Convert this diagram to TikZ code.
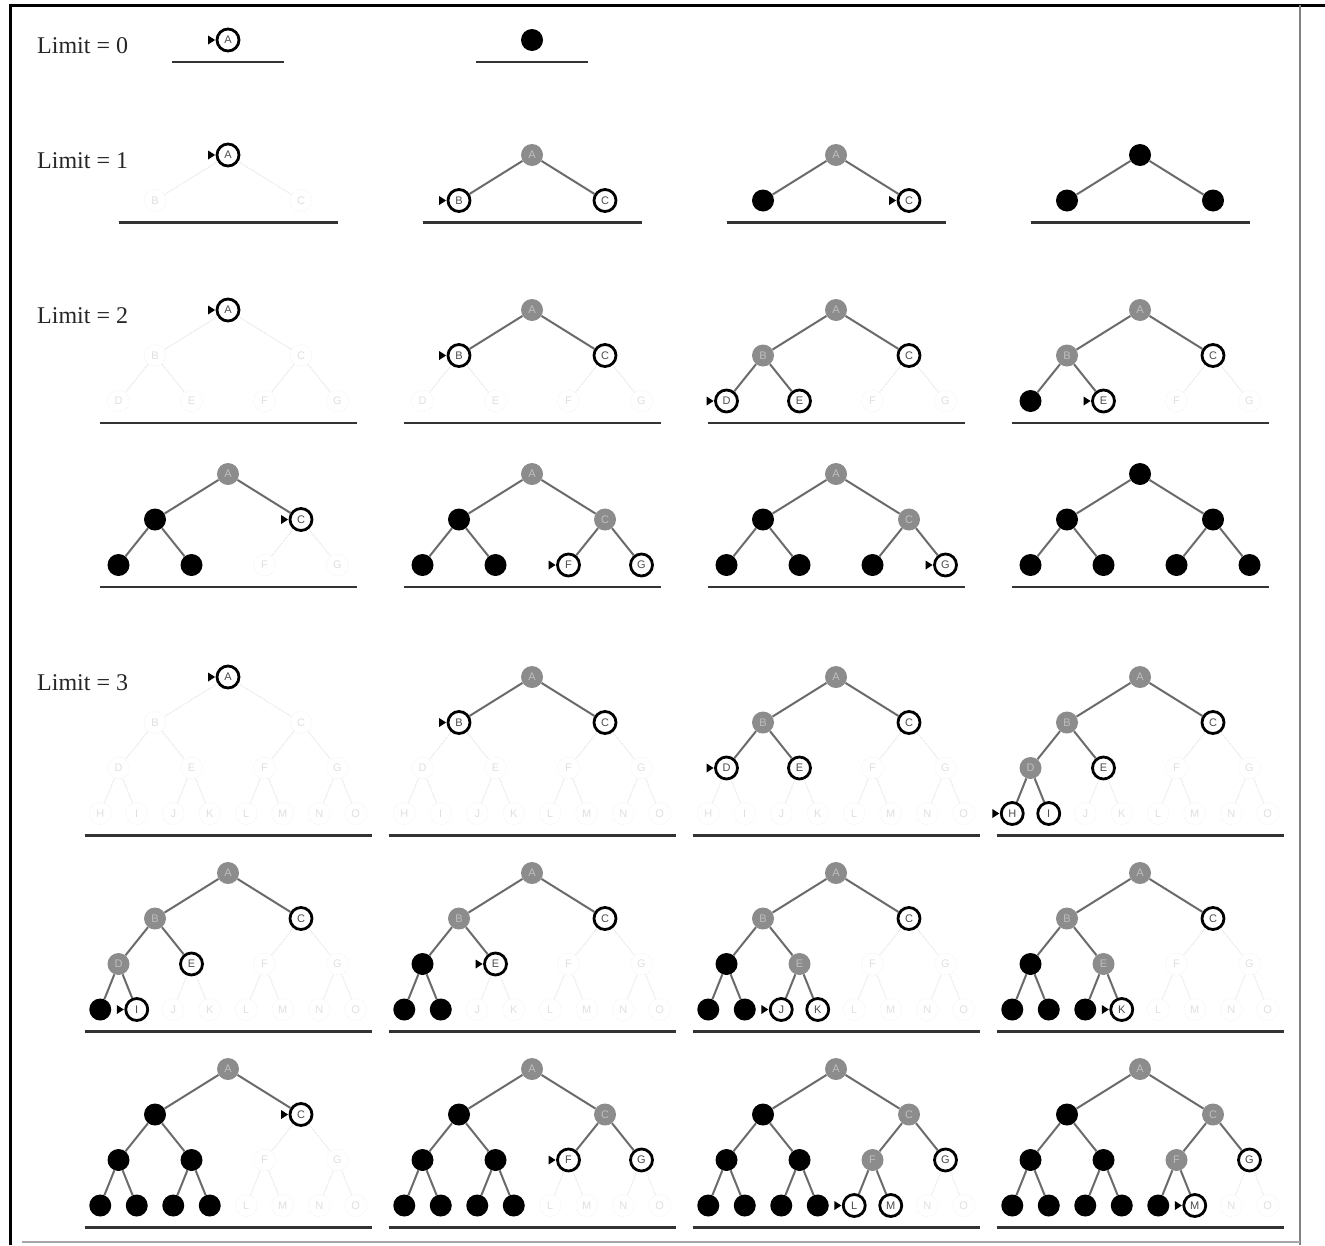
\documentclass[tikz,border=0pt]{standalone}
\usepackage{fontspec}
\setmainfont{Liberation Serif}
\setsansfont{Liberation Sans}
\newcommand\lettr[1]{\ifcase#1\or A\or B\or C\or D\or E\or F\or G\or H\or I\or J\or K\or L\or M\or N\or O\fi}
\tikzset{
  tn/.style={circle, minimum size=22pt, inner sep=0pt, font=\sffamily\fontsize{11}{11}\selectfont},
  st-c/.style={draw=black, line width=2.8pt, fill=white, text=black!70},
  st-p/.style={fill=black!45, text=black!25},
  st-b/.style={fill=black, text=black},
  st-g/.style={draw=black!10, densely dotted, text=black!12},
  eg-c/.style={draw=black!58, line width=2pt},
  eg-p/.style={draw=black!58, line width=2pt},
  eg-b/.style={draw=black!58, line width=2pt},
  eg-g/.style={draw=black!10, densely dotted, line width=1pt},
  baseln/.style={draw=black!80, line width=2.8pt},
  lbl/.style={anchor=west, inner sep=0pt, text=black!85, font=\fontsize{24}{24}\selectfont},
  marker/.style={fill=black}
}
% #1 id, #2 cx, #3 root y, #4 depth, #5 marker index, #6 states
\newcommand\drawtree[6]{%
  \foreach \s [count=\i] in {#6} {
    \pgfmathtruncatemacro\lv{floor(ln(\i)/ln(2)+0.0001)}
    \pgfmathtruncatemacro\pw{2^\lv}
    \pgfmathsetmacro\nx{#2+(\i-\pw-(\pw-1)/2)*292/\pw}
    \pgfmathsetmacro\ny{#3+\lv*45.5}
    \node[tn, st-\s] (#1-\i) at (\nx,\ny) {\lettr{\i}};
  }
  \foreach \s [count=\i] in {#6} {
    \ifnum\i>1
      \pgfmathtruncatemacro\pp{\i/2}
      \draw[eg-\s] (#1-\pp) -- (#1-\i);
    \fi
  }
  \ifnum#5>0 \fill[marker] ([xshift=-0.5pt]#1-#5.west) -- ++(-7,4.5) -- ++(0,-9) -- cycle;\fi
  \edef\bw{\ifcase#4 56\or 109.5\or 128.5\or 143.5\fi}
  \pgfmathsetmacro\by{#3+#4*45.5+22}
  \draw[baseln] (#2-\bw,\by) -- (#2+\bw,\by);
}
\begin{document}
\begin{tikzpicture}[x=1pt,y=-1pt]
\fill[white] (0,0) rectangle (1325,1245);
\useasboundingbox (0,0) rectangle (1325,1245);
% frame
\draw[line width=3pt] (10,1245) -- (10,5) -- (1325,5);
\draw[black!50, line width=2pt] (1300,5) -- (1300,1245);
\draw[black!35, line width=1.5pt] (22,1242) -- (1300,1242);
% labels
\node[lbl] (lab0) at (37,46) {Limit = 0};
\node[lbl] (lab1) at (37,161) {Limit = 1};
\node[lbl] (lab2) at (37,316) {Limit = 2};
\node[lbl] (lab3) at (37,683) {Limit = 3};
% limit 0
\drawtree{ta}{228}{40}{0}{1}{c}
\drawtree{tb}{532}{40}{0}{0}{b}
% limit 1
\drawtree{tc}{228}{155}{1}{1}{c,g,g}
\drawtree{td}{532}{155}{1}{2}{p,c,c}
\drawtree{te}{836}{155}{1}{3}{p,b,c}
\drawtree{tf}{1140}{155}{1}{0}{b,b,b}
% limit 2
\drawtree{tg}{228}{310}{2}{1}{c,g,g,g,g,g,g}
\drawtree{th}{532}{310}{2}{2}{p,c,c,g,g,g,g}
\drawtree{ti}{836}{310}{2}{4}{p,p,c,c,c,g,g}
\drawtree{tj}{1140}{310}{2}{5}{p,p,c,b,c,g,g}
\drawtree{tk}{228}{474}{2}{3}{p,b,c,b,b,g,g}
\drawtree{tl}{532}{474}{2}{6}{p,b,p,b,b,c,c}
\drawtree{tm}{836}{474}{2}{7}{p,b,p,b,b,b,c}
\drawtree{tn}{1140}{474}{2}{0}{b,b,b,b,b,b,b}
% limit 3
\drawtree{to}{228}{677}{3}{1}{c,g,g,g,g,g,g,g,g,g,g,g,g,g,g}
\drawtree{tp}{532}{677}{3}{2}{p,c,c,g,g,g,g,g,g,g,g,g,g,g,g}
\drawtree{tq}{836}{677}{3}{4}{p,p,c,c,c,g,g,g,g,g,g,g,g,g,g}
\drawtree{tr}{1140}{677}{3}{8}{p,p,c,p,c,g,g,c,c,g,g,g,g,g,g}
\drawtree{ts}{228}{873}{3}{9}{p,p,c,p,c,g,g,b,c,g,g,g,g,g,g}
\drawtree{tt}{532}{873}{3}{5}{p,p,c,b,c,g,g,b,b,g,g,g,g,g,g}
\drawtree{tu}{836}{873}{3}{10}{p,p,c,b,p,g,g,b,b,c,c,g,g,g,g}
\drawtree{tv}{1140}{873}{3}{11}{p,p,c,b,p,g,g,b,b,b,c,g,g,g,g}
\drawtree{tw}{228}{1069}{3}{3}{p,b,c,b,b,g,g,b,b,b,b,g,g,g,g}
\drawtree{tx}{532}{1069}{3}{6}{p,b,p,b,b,c,c,b,b,b,b,g,g,g,g}
\drawtree{ty}{836}{1069}{3}{12}{p,b,p,b,b,p,c,b,b,b,b,c,c,g,g}
\drawtree{tz}{1140}{1069}{3}{13}{p,b,p,b,b,p,c,b,b,b,b,b,c,g,g}
\end{tikzpicture}
\end{document}
